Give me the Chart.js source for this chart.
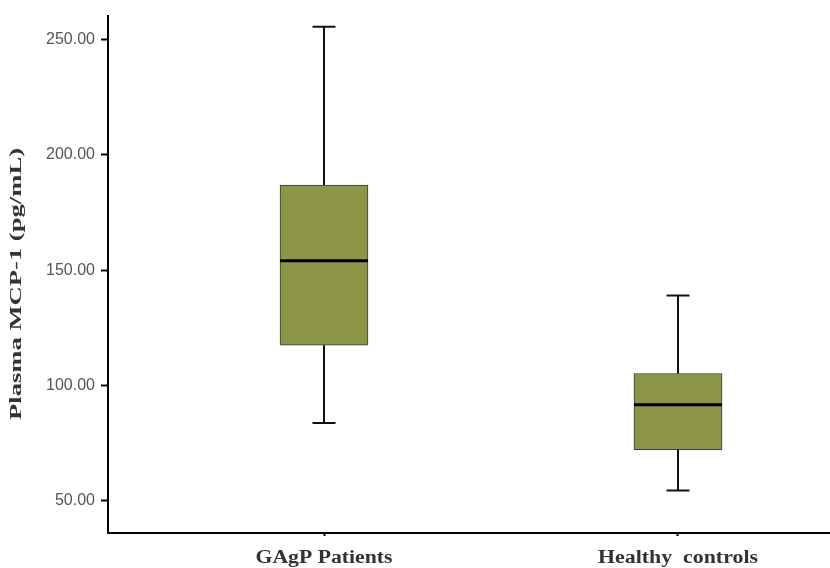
<!DOCTYPE html>
<html>
<head>
<meta charset="utf-8">
<script src="https://cdn.jsdelivr.net/npm/chart.js@4"></script>
<style>
  html, body { margin: 0; padding: 0; background: #fff; }
  #wrap { width: 830px; height: 568px; position: relative; }
</style>
</head>
<body>
<div id="wrap"><canvas id="boxChart"></canvas></div>
<script>
// box plot values (pg/mL)
const groups = ["GAgP Patients", "Healthy  controls"];
const groupPos = [1, 2];
const whiskerLow = [83.8, 54.5];
const q1 = [117.5, 72.2];
const median = [154.1, 91.7];
const q3 = [186.9, 105.2];
const whiskerHigh = [255.5, 139.0];
const yTicks = [50, 100, 150, 200, 250];
const yTitle = "Plasma MCP-1 (pg/mL)";

const boxFill = "#8c9646";

// draws text stretched to a given width (the source figure's text is wide)
function wideText(ctx, text, x, y, width, rot) {
  ctx.save();
  ctx.translate(x, y);
  if (rot) ctx.rotate(rot);
  const w = ctx.measureText(text).width;
  ctx.scale(width / w, 1);
  ctx.fillText(text, 0, 0);
  ctx.restore();
}

// whiskers, caps, median line and the serif labels
const boxExtras = {
  id: "boxExtras",
  afterDatasetsDraw(chart) {
    const ctx = chart.ctx;
    const xs = chart.scales.x;
    const ys = chart.scales.y;
    const capHalf = 11.5;
    const boxHalf = 44;
    ctx.save();
    groupPos.forEach((p, i) => {
      const cx = xs.getPixelForValue(p);
      ctx.strokeStyle = "#111";
      ctx.lineWidth = 2;
      ctx.beginPath();
      ctx.moveTo(cx, ys.getPixelForValue(q3[i]));
      ctx.lineTo(cx, ys.getPixelForValue(whiskerHigh[i]));
      ctx.moveTo(cx, ys.getPixelForValue(q1[i]));
      ctx.lineTo(cx, ys.getPixelForValue(whiskerLow[i]));
      ctx.moveTo(cx - capHalf, ys.getPixelForValue(whiskerHigh[i]));
      ctx.lineTo(cx + capHalf, ys.getPixelForValue(whiskerHigh[i]));
      ctx.moveTo(cx - capHalf, ys.getPixelForValue(whiskerLow[i]));
      ctx.lineTo(cx + capHalf, ys.getPixelForValue(whiskerLow[i]));
      ctx.stroke();
      ctx.lineWidth = 3;
      ctx.strokeStyle = "#000";
      ctx.beginPath();
      ctx.moveTo(cx - boxHalf, ys.getPixelForValue(median[i]));
      ctx.lineTo(cx + boxHalf, ys.getPixelForValue(median[i]));
      ctx.stroke();
    });
    ctx.restore();
  },
  afterDraw(chart) {
    const ctx = chart.ctx;
    const xs = chart.scales.x;
    const labelWidths = [137, 160];
    ctx.save();
    ctx.fillStyle = "#333";
    ctx.textAlign = "center";
    ctx.textBaseline = "alphabetic";
    ctx.font = "bold 18px 'Liberation Serif'";
    groupPos.forEach((p, i) => {
      wideText(ctx, groups[i], xs.getPixelForValue(p), xs.top + 30, labelWidths[i], 0);
    });
    ctx.font = "bold 16px 'Liberation Serif'";
    ctx.textBaseline = "middle";
    wideText(ctx, yTitle, 17, 284, 272, -Math.PI / 2);
    ctx.restore();
  }
};

new Chart(document.getElementById("boxChart"), {
  type: "bar",
  data: {
    datasets: [{
      data: groupPos.map((p, i) => ({ x: p, y: [q1[i], q3[i]] })),
      backgroundColor: boxFill,
      borderColor: "#3a3a3a",
      borderWidth: 1,
      borderSkipped: false,
      barThickness: 88
    }]
  },
  options: {
    responsive: true,
    maintainAspectRatio: false,
    animation: false,
    layout: { padding: { top: 13, right: 0, left: 0, bottom: 0 } },
    plugins: {
      legend: { display: false },
      tooltip: { enabled: false }
    },
    scales: {
      x: {
        type: "linear",
        offset: false,
        min: 0.3898,
        max: 2.4294,
        afterBuildTicks: (s) => { s.ticks = groupPos.map(v => ({ value: v })); },
        afterFit: (s) => { s.height = 35; },
        ticks: { display: false },
        grid: {
          offset: false,
          drawOnChartArea: false,
          tickLength: 3,
          tickWidth: 2,
          tickColor: "#000"
        },
        border: { color: "#000", width: 2 }
      },
      y: {
        min: 36.07,
        max: 260.35,
        afterBuildTicks: (s) => { s.ticks = yTicks.map(v => ({ value: v })); },
        afterFit: (s) => { s.width = 108; },
        ticks: {
          padding: 6,
          color: "#555",
          font: { family: "Liberation Sans", size: 16 },
          callback: (v) => v.toFixed(2)
        },
        grid: {
          drawOnChartArea: false,
          tickLength: 7,
          tickWidth: 2,
          tickColor: "#000"
        },
        border: { color: "#000", width: 2 }
      }
    }
  },
  plugins: [boxExtras]
});
</script>
</body>
</html>
